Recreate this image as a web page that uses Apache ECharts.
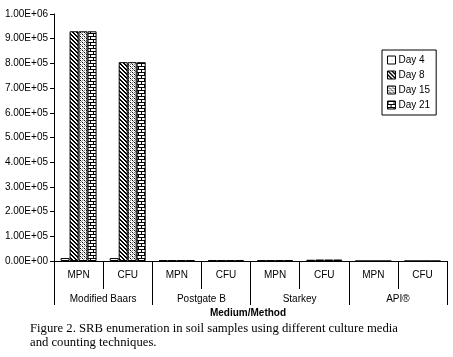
<!DOCTYPE html>
<html>
<head>
<meta charset="utf-8">
<script src="https://cdn.jsdelivr.net/npm/echarts@6/dist/echarts.min.js"></script>
<style>
html,body{margin:0;padding:0;background:#fff}
#chart{width:453px;height:357px}
</style>
</head>
<body>
<div id="chart"></div>
<script>
// data
var methods = ['MPN', 'CFU', 'MPN', 'CFU', 'MPN', 'CFU', 'MPN', 'CFU']
var media = ['Modified Baars', 'Postgate B', 'Starkey', 'API®']
var seriesNames = ['Day 4', 'Day 8', 'Day 15', 'Day 21']
var day4 = [12000, 12000, 3000, 3000, 3000, 5000, 0, 0]
var day8 = [930000, 805000, 3000, 3000, 3000, 6000, 0, 0]
var day15 = [930000, 805000, 3000, 3000, 3000, 6000, 0, 0]
var day21 = [930000, 805000, 3000, 3000, 3000, 6000, 0, 0]
var yMax = 1000000
var yStep = 100000

// small canvases used as fill patterns (like excel b/w hatches)
function makePattern (w, h, draw) {
  var c = document.createElement('canvas')
  c.width = w
  c.height = h
  var ctx = c.getContext('2d')
  ctx.fillStyle = '#fff'
  ctx.fillRect(0, 0, w, h)
  draw(ctx)
  return { image: c, repeat: 'repeat' }
}
var patterns = [
  // day 4: almost white, sparse dots
  makePattern(4, 4, function (ctx) {
    ctx.fillStyle = '#bbb'
    ctx.fillRect(0, 0, 1, 1)
  }),
  // day 8: dense backslash hatch
  makePattern(4, 4, function (ctx) {
    ctx.fillStyle = '#000'
    for (var i = 0; i < 4; i++) {
      ctx.fillRect(i, i, 1, 1)
      ctx.fillRect((i + 1) % 4, i, 1, 1)
    }
  }),
  // day 15: small checker
  makePattern(4, 4, function (ctx) {
    ctx.fillStyle = '#000'
    ctx.fillRect(0, 0, 1, 1)
    ctx.fillRect(2, 2, 1, 1)
    ctx.fillStyle = '#888'
    ctx.fillRect(1, 1, 1, 1)
    ctx.fillRect(3, 3, 1, 1)
    ctx.fillRect(2, 0, 1, 1)
    ctx.fillRect(0, 2, 1, 1)
  }),
  // day 21: bricks
  makePattern(6, 6, function (ctx) {
    ctx.fillStyle = '#000'
    ctx.fillRect(0, 0, 6, 1)
    ctx.fillRect(0, 3, 6, 1)
    ctx.fillRect(0, 1, 1, 2)
    ctx.fillRect(3, 4, 1, 2)
  })
]

function sci (v) {
  if (v === 0) return '0.00E+00'
  var e = Math.floor(Math.log10(v) + 1e-9)
  var m = v / Math.pow(10, e)
  return m.toFixed(2) + 'E+' + (e < 10 ? '0' + e : e)
}

var values = [day4, day8, day15, day21]
var series = seriesNames.map(function (name, i) {
  return {
    name: name,
    type: 'bar',
    xAxisIndex: 0,
    barWidth: 9,
    barGap: '0%',
    data: values[i],
    itemStyle: {
      color: patterns[i],
      borderColor: '#000',
      borderWidth: 1
    }
  }
})

var chart = echarts.init(document.getElementById('chart'))
var font = 'Arial, "Liberation Sans", sans-serif'
var option = {
  animation: false,
  backgroundColor: '#fff',
  textStyle: { fontFamily: font },
  grid: { left: 54, right: 6, top: 14, bottom: 96, containLabel: false },
  title: [{
    text: 'Medium/Method',
    left: 248,
    textAlign: 'center',
    top: 308,
    padding: 0,
    textStyle: { fontFamily: font, fontSize: 10, fontWeight: 'bold', color: '#000' }
  }, {
    text: 'Figure 2. SRB enumeration in soil samples using different culture media\nand counting techniques.',
    left: 30,
    top: 322,
    padding: 0,
    textStyle: { fontFamily: '"Liberation Serif", "Times New Roman", serif', fontSize: 12.7, fontWeight: 'normal', color: '#000', lineHeight: 14 }
  }],
  legend: {
    orient: 'vertical',
    left: 382,
    top: 50,
    padding: [5, 6, 5, 5],
    itemGap: 5,
    itemWidth: 8,
    itemHeight: 8,
    icon: 'rect',
    borderColor: '#000',
    borderWidth: 1,
    backgroundColor: '#fff',
    data: seriesNames,
    itemStyle: { borderColor: '#000', borderWidth: 1 },
    textStyle: { fontFamily: font, fontSize: 10, color: '#000', padding: [0, 0, 0, -2] }
  },
  xAxis: [{
    type: 'category',
    data: methods,
    position: 'bottom',
    axisLine: { show: true, lineStyle: { color: '#000', width: 1 } },
    axisTick: { show: true, interval: 0, length: 28, lineStyle: { color: '#000', width: 1 } },
    axisLabel: { interval: 0, margin: 9, fontSize: 10, color: '#000', fontFamily: font },
    splitLine: { show: false }
  }, {
    type: 'category',
    data: media,
    position: 'bottom',
    offset: 28,
    axisLine: { show: false },
    axisTick: { show: true, interval: 0, length: 16, lineStyle: { color: '#000', width: 1 } },
    axisLabel: { interval: 0, margin: 5, fontSize: 10, color: '#000', fontFamily: font },
    splitLine: { show: false }
  }],
  yAxis: {
    type: 'value',
    min: 0,
    max: yMax,
    interval: yStep,
    axisLine: { show: true, lineStyle: { color: '#000' } },
    axisTick: { show: true, length: 4, lineStyle: { color: '#000' } },
    axisLabel: { margin: 6, fontSize: 10, color: '#000', fontFamily: font, formatter: sci },
    splitLine: { show: false }
  },
  series: series
}
chart.setOption(option)
</script>
</body>
</html>
